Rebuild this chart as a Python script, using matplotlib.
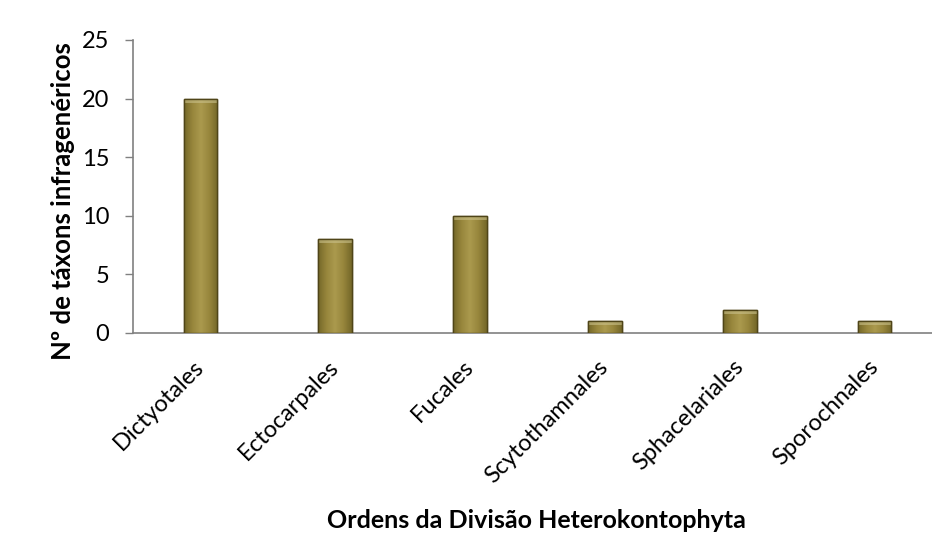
import matplotlib
matplotlib.use("Agg")
import matplotlib.pyplot as plt
import matplotlib.transforms as mtransforms
import numpy as np
from matplotlib.colors import LinearSegmentedColormap

categories = ["Dictyotales", "Ectocarpales", "Fucales", "Scytothamnales", "Sphacelariales", "Sporochnales"]
values = [20, 8, 10, 1, 2, 1]
yticks = [0, 5, 10, 15, 20, 25]

plt.rcParams['font.family'] = ['Lato', 'DejaVu Sans']

fig = plt.figure(figsize=(9.32, 5.39), dpi=100)
ax = fig.add_axes([0.1427, 0.3822, 0.868, 0.5436])

x = np.arange(len(categories))
bars = ax.bar(x, values, width=0.25, color="#9c8a40", edgecolor="#4f4518", linewidth=1.0, zorder=3)

# gradient fill for each bar
cmap = LinearSegmentedColormap.from_list("olive", ["#756829", "#97863c", "#ab9a4e", "#97863c", "#756829"])
grad = np.linspace(0, 1, 64).reshape(1, -1)
for b in bars:
    x0, y0 = b.get_x(), b.get_y()
    w, h = b.get_width(), b.get_height()
    im = ax.imshow(grad, cmap=cmap, extent=(x0, x0 + w, y0, y0 + h), aspect='auto', zorder=3.5)
    im.set_clip_path(b)
    th = min(0.35, h * 0.3)
    ax.add_patch(plt.Rectangle((x0, y0 + h - th), w, th,
                               facecolor="#c9c08a", edgecolor="none", alpha=0.6, zorder=3.6))
    ax.add_patch(plt.Rectangle((x0, y0), w, h, facecolor="none", edgecolor="#4f4518", linewidth=1.0, zorder=4))

ax.set_xlim(-0.5, len(categories) - 0.5)
ax.set_ylim(0, 25)
ax.set_yticks(yticks)
ax.set_xticks(x)
ax.set_xticklabels(categories, rotation=45, ha="right", va="center", rotation_mode="anchor", fontsize=17)
offset = mtransforms.ScaledTranslation(10 / 100, -5 / 100, fig.dpi_scale_trans)
for lab in ax.get_xticklabels():
    lab.set_transform(lab.get_transform() + offset)
ax.tick_params(axis="x", length=0, pad=22)
ax.tick_params(axis="y", length=6, width=1, color="#808080", labelsize=17, pad=11)

for s in ["top", "right"]:
    ax.spines[s].set_visible(False)
for s in ["left", "bottom"]:
    ax.spines[s].set_color("#808080")
    ax.spines[s].set_linewidth(1.2)

ax.set_ylabel("Nº de táxons infragenéricos", fontsize=18.5, fontweight="bold")
ax.yaxis.set_label_coords(-0.072, 0.45)
fig.text(0.576, 0.02, "Ordens da Divisão Heterokontophyta", fontsize=18, fontweight="bold", ha="center")

fig.savefig("out.png", dpi=100)
